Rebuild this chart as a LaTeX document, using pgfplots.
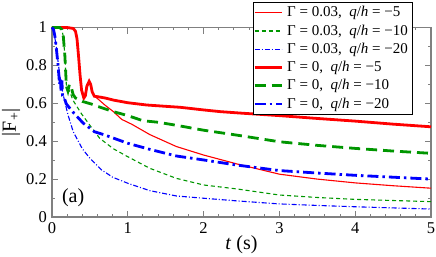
\documentclass[border=0pt]{standalone}
\usepackage{pgfplots}
\pgfplotsset{compat=1.18}
\usepackage{fontspec}
\setmainfont{Liberation Serif}
\definecolor{cred}{RGB}{255,0,0}
\definecolor{cgreen}{RGB}{0,150,0}
\definecolor{cblue}{RGB}{0,0,255}
\definecolor{axgray}{RGB}{128,128,128}
\begin{document}
\fontsize{15bp}{18bp}\selectfont
\begin{tikzpicture}
\begin{axis}[
  scale only axis,
  width=379bp, height=189.5bp,
  xmin=0, xmax=5, ymin=0, ymax=1,
  xtick={0,1,2,3,4,5},
  ytick={0,0.2,0.4,0.6,0.8,1},
  yticklabels={0,0.2,0.4,0.6,0.8,1},
  minor x tick num=4,
  minor y tick num=1,
  tick pos=both,
  major tick length=6bp,
  minor tick length=3bp,
  axis line style={axgray, line width=1.3bp},
  every tick/.style={axgray, line width=1bp},
  /pgf/number format/assume math mode=true,
  clip=false,
  every axis label/.append style={font=\fontsize{20bp}{24bp}\selectfont},
  tick label style={font=\fontsize{16.5bp}{19bp}\selectfont, black},
  xlabel={\textit{t} (s)},
  ylabel={|F\textsubscript{+}|},
  xlabel style={at={(axis description cs:0.5,-0.148)}, anchor=center},
  ylabel style={at={(axis description cs:-0.108,0.5)}, anchor=center},
  legend style={at={(axis description cs:0.95,1.135)}, anchor=north east,
    inner xsep=0bp, inner ysep=1.5bp,
    row sep=0bp, font=\fontsize{15bp}{18bp}\selectfont,
    nodes={inner xsep=4bp, inner ysep=2.8bp}},
  legend cell align=left,
  legend image code/.code={\draw[#1] (0bp,0bp) -- (27bp,0bp);},
]
% Gamma=0.03, q/h=-5
\addplot[draw=cred, line width=1.1bp] coordinates {
(0,1) (0.2,1) (0.28,0.995) (0.31,0.98) (0.33,0.94) (0.35,0.85) (0.37,0.75) (0.39,0.67)
(0.42,0.628) (0.44,0.64) (0.46,0.69) (0.49,0.716) (0.51,0.70) (0.53,0.66) (0.56,0.637)
(0.6,0.625) (0.7,0.59) (0.81,0.556) (0.92,0.515) (1.05,0.49) (1.29,0.435) (1.64,0.372)
(2.0,0.327) (2.44,0.28) (3.0,0.226) (3.5,0.2) (4.0,0.18) (4.5,0.165) (5.0,0.152)};
\addlegendentry{Γ = 0.03,\ \ \textit{q}/\textit{h} = −5}
% Gamma=0.03, q/h=-10
\addplot[draw=cgreen, line width=1.1bp, dash pattern=on 4bp off 3bp] coordinates {
(0,1) (0.1,1) (0.13,0.99) (0.15,0.95) (0.17,0.85) (0.19,0.69) (0.2,0.68) (0.23,0.665)
(0.28,0.614) (0.39,0.544) (0.52,0.473) (0.63,0.415) (0.81,0.36) (1.0,0.318) (1.29,0.257)
(1.64,0.204) (2.0,0.169) (2.44,0.148) (3.0,0.116) (3.5,0.103) (4.0,0.093) (4.5,0.087) (5.0,0.081)};
\addlegendentry{Γ = 0.03,\ \ \textit{q}/\textit{h} = −10}
% Gamma=0.03, q/h=-20
\addplot[draw=cblue, line width=1.1bp, dash pattern=on 5bp off 2bp on 1bp off 2bp] coordinates {
(0,1) (0.02,0.98) (0.04,0.94) (0.057,0.9) (0.08,0.82) (0.1,0.755) (0.145,0.65) (0.21,0.54)
(0.28,0.45) (0.4,0.36) (0.5,0.31) (0.656,0.248) (0.8,0.21) (1.0,0.178) (1.29,0.139)
(1.64,0.111) (2.0,0.099) (2.44,0.085) (3.0,0.069) (3.5,0.061) (4.0,0.054) (4.5,0.048) (5.0,0.042)};
\addlegendentry{Γ = 0.03,\ \ \textit{q}/\textit{h} = −20}
% Gamma=0, q/h=-5
\addplot[draw=cred, line width=2.8bp] coordinates {
(0,1) (0.2,1) (0.28,0.995) (0.31,0.98) (0.33,0.94) (0.35,0.85) (0.37,0.75) (0.39,0.67)
(0.42,0.628) (0.44,0.64) (0.46,0.69) (0.49,0.716) (0.51,0.70) (0.53,0.66) (0.56,0.637)
(0.6,0.635) (0.7,0.628) (0.81,0.617) (1.0,0.603) (1.25,0.591) (1.5,0.584) (1.69,0.579)
(2.0,0.565) (2.22,0.556) (2.5,0.548) (3.0,0.535) (3.5,0.52) (4.0,0.506) (4.5,0.49) (5.0,0.476)};
\addlegendentry{Γ = 0,\ \ \textit{q}/\textit{h} = −5}
% Gamma=0, q/h=-10
\addplot[draw=cgreen, line width=2.8bp, dash pattern=on 11bp off 6bp] coordinates {
(0,1) (0.1,1) (0.13,0.99) (0.15,0.95) (0.17,0.85) (0.19,0.69) (0.21,0.665) (0.23,0.70)
(0.25,0.69) (0.28,0.645) (0.31,0.628) (0.4,0.61) (0.52,0.596) (0.63,0.58) (0.81,0.556)
(1.0,0.535) (1.2,0.508) (1.4,0.5) (1.64,0.484) (2.0,0.458) (2.44,0.432) (3.0,0.397)
(3.5,0.378) (4.0,0.362) (4.5,0.348) (5.0,0.336)};
\addlegendentry{Γ = 0,\ \ \textit{q}/\textit{h} = −10}
% Gamma=0, q/h=-20
\addplot[draw=cblue, line width=2.8bp, dash pattern=on 11bp off 4bp on 2.5bp off 4bp] coordinates {
(0,1) (0.02,0.99) (0.04,0.95) (0.06,0.88) (0.08,0.8) (0.1,0.7) (0.11,0.73) (0.12,0.66)
(0.13,0.72) (0.14,0.64) (0.16,0.63) (0.19,0.596) (0.28,0.552) (0.41,0.496) (0.56,0.45)
(0.68,0.435) (1.0,0.389) (1.29,0.357) (1.64,0.322) (2.0,0.301) (2.44,0.274) (3.0,0.245)
(3.5,0.232) (4.0,0.22) (4.5,0.21) (5.0,0.2)};
\addlegendentry{Γ = 0,\ \ \textit{q}/\textit{h} = −20}
\node[anchor=west, inner sep=0pt, font=\fontsize{20bp}{24bp}\selectfont] at (axis cs:0.13,0.1) {(a)};
\end{axis}
\pgfresetboundingbox
\path ([shift={(-52bp,-40bp)}]current axis.south west) rectangle ([shift={(5bp,27.5bp)}]current axis.north east);
\end{tikzpicture}
\end{document}
